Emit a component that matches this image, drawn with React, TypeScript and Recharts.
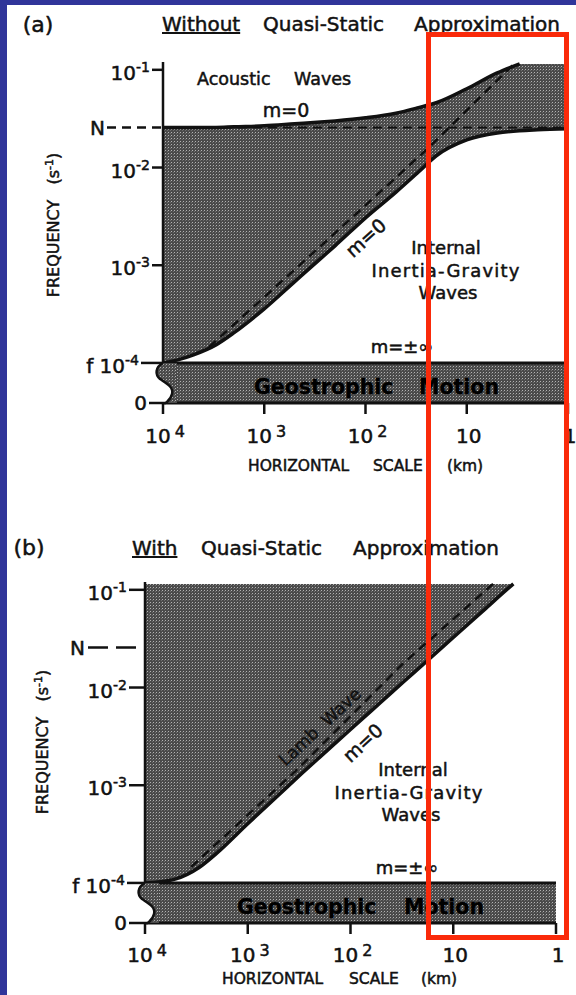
import React from "react";
import { ComposedChart, Area, Line, XAxis, YAxis, ReferenceLine } from "recharts";

// frequencies in s^-1, horizontal scales in km
const N_FREQ = 0.0257;
const F_FREQ = 1e-4;
const CEILING = 0.115;

// panel (a): shaded band between gravity (m=0) and acoustic (m=0) edges
const scaleKmA = [10000, 7000, 5000, 3000, 2000, 1000, 500, 300, 200, 100, 50, 30, 20, 10, 5, 3, 2, 1];
const acousticA = [0.0257, 0.0257, 0.0257, 0.0257, 0.0261, 0.0267, 0.028, 0.029, 0.03, 0.0323, 0.036, 0.041, 0.046, 0.064, 0.093, 0.115, 0.115, 0.115];
const gravityA = [1.0e-4, 1.08e-4, 1.21e-4, 1.53e-4, 2.03e-4, 3.58e-4, 6.8e-4, 1.09e-3, 1.58e-3, 3.05e-3, 5.6e-3, 9.0e-3, 0.0132, 0.0192, 0.0226, 0.0238, 0.0243, 0.0249];
const lambKmA = [3500, 225, 25, 3.4];
const lambA = [1.46e-4, 1.91e-3, 0.0152, 0.115];

// panel (b): everything above the gravity (m=0) edge
const scaleKmB = [10000, 7000, 5000, 3000, 2000, 1000, 500, 300, 200, 100, 50, 30, 20, 10, 5, 3, 2.6];
const gravityB = [1.0e-4, 1.03e-4, 1.1e-4, 1.43e-4, 2.02e-4, 4.04e-4, 7.96e-4, 1.31e-3, 1.93e-3, 3.72e-3, 7.16e-3, 0.0116, 0.0169, 0.0325, 0.0624, 0.101, 0.115];
const lambKmB = [3550, 341, 31, 4.1];
const lambB = [1.46e-4, 1.4e-3, 0.0175, 0.115];

// geostrophic band, 0 .. f
const geoKm = [10000, 1];
const geoTop = [F_FREQ, F_FREQ];
const geoBottom = [0, 0];

const xTickKm = [10000, 1000, 100, 10, 1];
const xTickBase = ["10", "10", "10", "10", "1"];
const xTickExp = ["4", "3", "2", "", ""];

const yTickFreq = [0, F_FREQ, 1e-3, 1e-2, N_FREQ, 1e-1];
const yTickPrefix = ["", "f", "", "", "", ""];
const yTickBase = ["0", "10", "10", "10", "N", "10"];
const yTickExp = ["", "-4", "-3", "-2", "", "-1"];

const ZERO_POS = -4.41; // broken axis: where "0" sits below f
const Y_TOP = -0.92;
const toY = (f: number) => (f > 0 ? Math.log10(f) : ZERO_POS);
const closest = (arr: number[], v: number) => {
  let best = 0;
  arr.forEach((a, i) => {
    if (Math.abs(a - v) < Math.abs(arr[best] - v)) best = i;
  });
  return best;
};

const FONT = '"DejaVu Sans", sans-serif';
const INK = "#111";
const BLUE = "#30359a";
const RED = "#fa2a0a";
const svgText = { fontFamily: FONT, fill: INK, stroke: INK, strokeWidth: 0.5 } as any;

function FreqTick(props: any) {
  const { x, y, payload, variant, pid } = props;
  const isA = variant === "a";
  const i = closest(yTickFreq.map(toY), payload.value);
  const base = yTickBase[i];
  const exp = yTickExp[i];
  const prefix = yTickPrefix[i];

  if (base === "N") {
    return (
      <g>
        <text x={x - (isA ? 73 : 75)} y={y + 8} fontSize={20} style={svgText}>N</text>
        <line x1={x - (isA ? 56 : 57)} x2={x - (isA ? 0 : 9)} y1={y} y2={y} stroke={INK} strokeWidth={2.5}
          strokeDasharray={isA ? "9 6" : "20 8"} />
      </g>
    );
  }
  if (base === "0") {
    const wave = "M0,-40 C-8,-36 -8,-28 -3,-24 C3,-20 11,-16 9,-9 C8,-4 5,-2 3,0";
    return (
      <g>
        <g transform={`translate(${x},${y})`}>
          <path d={`${wave} L14,0 L14,-40 Z`} fill={`url(#${pid})`} />
          <path d={`${wave} L-12,0 L-12,-40 Z`} fill="#fff" />
          <path d={wave} fill="none" stroke={INK} strokeWidth={2.5} />
        </g>
        <line x1={x - (isA ? 14 : 16)} x2={x + 3} y1={y} y2={y} stroke={INK} strokeWidth={2.5} />
        <text x={x - (isA ? 16 : 18)} y={y + 7} fontSize={20} textAnchor="end" style={svgText}>0</text>
      </g>
    );
  }
  const len = prefix ? (isA ? 22 : 18) : isA ? 11 : 16;
  return (
    <g>
      <line x1={x - len} x2={x} y1={y} y2={y} stroke={INK} strokeWidth={2.5} />
      <text x={x - len - 2} y={y + 10} fontSize={20} textAnchor="end" style={svgText}>
        {prefix ? `${prefix} ` : ""}
        {base}
        <tspan dy={-8} fontSize={14}>{exp}</tspan>
      </text>
    </g>
  );
}

function ScaleTick(props: any) {
  const { x, y, payload, variant } = props;
  const i = closest(xTickKm.map(Math.log10), payload.value);
  const exp = xTickExp[i];
  return (
    <g>
      <line x1={x} x2={x} y1={y} y2={y + 11} stroke={INK} strokeWidth={2.5} />
      <text x={x + 2} y={y + (variant === "a" ? 40 : 39)} fontSize={20} textAnchor="middle" style={svgText}>
        {xTickBase[i]}
        {exp ? <tspan dx={4} dy={-6} fontSize={16}>{exp}</tspan> : null}
      </text>
    </g>
  );
}

function Panel({ variant, top }: { variant: "a" | "b"; top: number }) {
  const isA = variant === "a";
  const left = isA ? 163 : 145;
  const right = isA ? 576 - 568 : 576 - 556;
  const height = isA ? 500 : 495;
  const plotTop = isA ? 62 : 82;
  const pid = `stipple-${variant}`;

  const shadeData = isA
    ? scaleKmA.map((km, i) => ({ x: Math.log10(km), range: [toY(gravityA[i]), toY(acousticA[i])] }))
    : scaleKmB.map((km, i) => ({ x: Math.log10(km), range: [toY(gravityB[i]), toY(CEILING)] }));
  const gravityData = isA
    ? scaleKmA.map((km, i) => ({ x: Math.log10(km), y: toY(gravityA[i]) }))
    : scaleKmB.map((km, i) => ({ x: Math.log10(km), y: toY(gravityB[i]) }));
  const acousticData = scaleKmA
    .map((km, i) => ({ x: Math.log10(km), y: toY(acousticA[i]) }))
    .slice(0, 16);
  const lambData = (isA ? lambKmA : lambKmB).map((km, i) => ({
    x: Math.log10(km),
    y: toY((isA ? lambA : lambB)[i]),
  }));
  const geoData = geoKm.map((km, i) => ({ x: Math.log10(km), range: [toY(geoBottom[i]), toY(geoTop[i])] }));

  return (
    <div style={{ position: "absolute", left: 0, top }}>
      <ComposedChart width={576} height={height} margin={{ top: plotTop, right, bottom: height - plotTop - 341 - 60, left: 0 }}>
        <defs>
          <pattern id={pid} width="3" height="3" patternUnits="userSpaceOnUse">
            <rect width="3" height="3" fill="#4a4a4a" />
            <rect width="1" height="1" fill="#b2b2b2" />
            <rect x="2" y="1" width="1" height="1" fill="#6e6e6e" />
          </pattern>
        </defs>
        <XAxis type="number" dataKey="x" domain={[0, 4]} reversed allowDataOverflow
          ticks={xTickKm.map(Math.log10)} interval={0} tickSize={0} tickMargin={0} tickLine={false}
          axisLine={{ stroke: INK, strokeWidth: 3 }} height={60}
          tick={<ScaleTick variant={variant} />} />
        <YAxis type="number" dataKey="y" domain={[ZERO_POS, Y_TOP]} allowDataOverflow
          ticks={yTickFreq.map(toY)} interval={0} tickSize={0} tickMargin={0} tickLine={false}
          axisLine={false} width={left}
          tick={<FreqTick variant={variant} pid={pid} />} />
        <Area data={shadeData} dataKey="range" type="monotone" fill={`url(#${pid})`} fillOpacity={1}
          stroke="none" isAnimationActive={false} />
        <Area data={geoData} dataKey="range" type="linear" fill={`url(#${pid})`} fillOpacity={1}
          stroke="none" isAnimationActive={false} />
        {isA && (
          <ReferenceLine y={toY(N_FREQ)} stroke={INK} strokeWidth={2} strokeDasharray="9 6" />
        )}
        <ReferenceLine y={toY(F_FREQ)} stroke={INK} strokeWidth={3} />
        <ReferenceLine segment={[{ x: 4, y: toY(F_FREQ) }, { x: 4, y: Y_TOP }]} stroke={INK} strokeWidth={2.5} />
        <Line data={lambData} dataKey="y" type="linear" stroke={INK} strokeWidth={2.5}
          strokeDasharray="9 6" dot={false} isAnimationActive={false} />
        <Line data={gravityData} dataKey="y" type="monotone" stroke={INK} strokeWidth={3.5}
          dot={false} isAnimationActive={false} />
        {isA && (
          <Line data={acousticData} dataKey="y" type="monotone" stroke={INK} strokeWidth={3.5}
            dot={false} isAnimationActive={false} />
        )}
      </ComposedChart>
    </div>
  );
}

function Note({ x, y, size = 18, rotate = 0, anchor = "middle", style, children }: any) {
  return (
    <div
      style={{
        position: "absolute",
        left: x,
        top: y,
        transform: `translate(${anchor === "middle" ? "-50%" : "0"}, -50%) rotate(${rotate}deg)`,
        fontSize: size,
        lineHeight: 1,
        whiteSpace: "pre",
        color: INK,
        WebkitTextStroke: "0.5px #111",
        ...style,
      }}
    >
      {children}
    </div>
  );
}

const bandText = { fontWeight: 700, color: "#000", WebkitTextStroke: "0.3px #000" };

export default function App() {
  return (
    <div
      style={{
        position: "absolute",
        left: 0,
        top: 0,
        width: 576,
        height: 995,
        background: "#fff",
        overflow: "hidden",
        fontFamily: FONT,
      }}
    >
      <Panel variant="a" top={0} />
      <Panel variant="b" top={500} />

      {/* panel (a) */}
      <Note x={38} y={25} size={22}>(a)</Note>
      <Note x={162} y={24} size={20} anchor="start" style={{ textDecoration: "underline" }}>Without</Note>
      <Note x={263} y={24} size={20} anchor="start">Quasi-Static</Note>
      <Note x={414} y={24} size={20} anchor="start">Approximation</Note>
      <Note x={197} y={80} size={17.5} anchor="start">Acoustic</Note>
      <Note x={294} y={80} size={17.5} anchor="start">Waves</Note>
      <Note x={286} y={110} size={19}>m=0</Note>
      <Note x={366} y={238} size={19} rotate={-42}>m=0</Note>
      <Note x={446} y={248} size={18}>Internal</Note>
      <Note x={446} y={271} size={18} style={{ letterSpacing: 1.2 }}>Inertia-Gravity</Note>
      <Note x={448} y={293} size={18}>Waves</Note>
      <Note x={402} y={347} size={18}>m=±∞</Note>
      <Note x={254} y={387} size={20.5} anchor="start" style={bandText}>Geostrophic</Note>
      <Note x={419} y={387} size={20.5} anchor="start" style={bandText}>Motion</Note>
      <Note x={248} y={467} size={15.5} anchor="start">HORIZONTAL</Note>
      <Note x={373} y={467} size={15.5} anchor="start">SCALE</Note>
      <Note x={447} y={467} size={15.5} anchor="start">(km)</Note>
      <Note x={53} y={225} size={16} rotate={-90}>
        FREQUENCY{"   "}(s<sup style={{ fontSize: 11 }}>-1</sup>)
      </Note>

      {/* panel (b) */}
      <Note x={29} y={548} size={22}>(b)</Note>
      <Note x={132} y={548} size={20} anchor="start" style={{ textDecoration: "underline" }}>With</Note>
      <Note x={201} y={548} size={20} anchor="start">Quasi-Static</Note>
      <Note x={353} y={548} size={20} anchor="start">Approximation</Note>
      <Note x={320} y={727} size={17} rotate={-43}>Lamb  Wave</Note>
      <Note x={363} y={743} size={19} rotate={-43}>m=0</Note>
      <Note x={413} y={770} size={18}>Internal</Note>
      <Note x={409} y={793} size={18} style={{ letterSpacing: 1.2 }}>Inertia-Gravity</Note>
      <Note x={411} y={815} size={18}>Waves</Note>
      <Note x={407} y={868} size={18}>m=±∞</Note>
      <Note x={237} y={907} size={20.5} anchor="start" style={bandText}>Geostrophic</Note>
      <Note x={404} y={907} size={20.5} anchor="start" style={bandText}>Motion</Note>
      <Note x={222} y={980} size={15.5} anchor="start">HORIZONTAL</Note>
      <Note x={349} y={980} size={15.5} anchor="start">SCALE</Note>
      <Note x={421} y={980} size={15.5} anchor="start">(km)</Note>
      <Note x={42} y={742} size={16} rotate={-90}>
        FREQUENCY{"   "}(s<sup style={{ fontSize: 11 }}>-1</sup>)
      </Note>

      {/* slide frame and highlight box */}
      <div style={{ position: "absolute", left: 0, top: 0, width: 7, height: 995, background: BLUE }} />
      <div style={{ position: "absolute", left: 0, top: 0, width: 576, height: 5, background: BLUE }} />
      <div
        style={{
          position: "absolute",
          left: 426,
          top: 32,
          width: 143,
          height: 908,
          border: `5px solid ${RED}`,
          boxSizing: "border-box",
          pointerEvents: "none",
        }}
      />
    </div>
  );
}
